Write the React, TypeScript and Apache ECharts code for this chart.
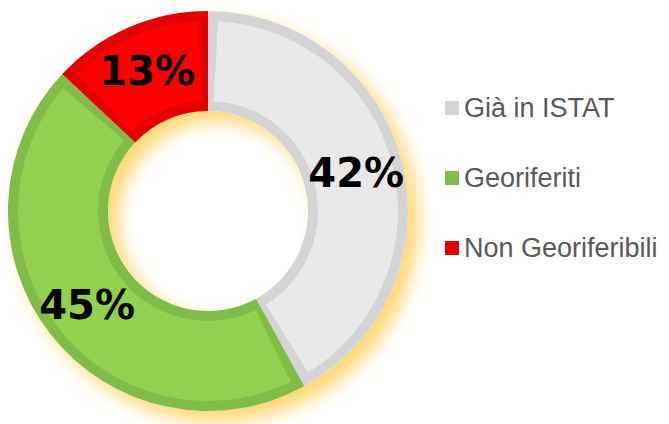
import React, { useEffect, useRef } from 'react';
import * as echarts from 'echarts';

const categories = ['Già in ISTAT', 'Georiferiti', 'Non Georiferibili'];
const values = [42, 45, 13];
const fillColors = ['#e9e9e9', '#92d050', '#ff0000'];
const borderColors = ['#d4d4d4', '#80bc47', '#e30000'];

export default function App() {
  const ref = useRef<HTMLDivElement>(null);
  useEffect(() => {
    const chart = echarts.init(ref.current!, null, { renderer: 'svg' });
    const center = [208, 211];
    chart.setOption({
      animation: false,
      legend: {
        orient: 'vertical',
        left: 440,
        top: 88,
        itemWidth: 14,
        itemHeight: 14,
        itemGap: 40,
        icon: 'rect',
        selectedMode: false,
        textStyle: {
          fontFamily: 'Liberation Sans',
          fontSize: 27,
          lineHeight: 30,
          color: '#595959',
        },
        data: categories.map((n, i) => ({
          name: n,
          itemStyle: { color: borderColors[i], borderWidth: 0 },
        })),
      },
      series: [
        {
          type: 'pie',
          silent: true,
          z: 1,
          center,
          radius: [100, 200],
          data: [{ value: 1, name: '_shadow' }],
          label: { show: false },
          labelLine: { show: false },
          itemStyle: {
            color: '#ffffff',
            shadowBlur: 18,
            shadowColor: 'rgba(255,214,110,1)',
            shadowOffsetX: 10,
            shadowOffsetY: 10,
          },
          emphasis: { disabled: true },
        },
        {
          type: 'pie',
          silent: true,
          z: 2,
          center,
          radius: [100, 200],
          data: categories.map((n, i) => ({
            name: n,
            value: values[i],
            itemStyle: { color: borderColors[i] },
          })),
          label: { show: false },
          labelLine: { show: false },
          emphasis: { disabled: true },
        },
        {
          type: 'pie',
          silent: true,
          z: 3,
          center,
          radius: [110, 190],
          padAngle: 6,
          data: categories.map((n, i) => ({
            name: n,
            value: values[i],
            itemStyle: { color: fillColors[i] },
          })),
          label: {
            show: true,
            position: 'inside',
            formatter: '{c}%',
            fontFamily: 'DejaVu Sans',
            fontWeight: 'bold',
            fontSize: 40,
            color: '#000000',
            textBorderWidth: 0,
          },
          labelLine: { show: false },
          emphasis: { disabled: true },
        },
      ],
    });
    return () => chart.dispose();
  }, []);
  return (
    <div
      ref={ref}
      style={{ position: 'fixed', left: 0, top: 0, width: 669, height: 424, background: '#fff' }}
    />
  );
}
